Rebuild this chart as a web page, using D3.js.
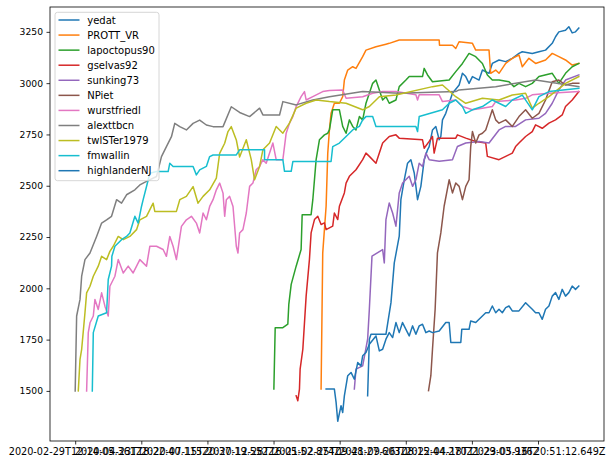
<!DOCTYPE html>
<html><head><meta charset="utf-8">
<script src="https://cdn.jsdelivr.net/npm/d3@7/dist/d3.min.js"></script>
<style>
html,body{margin:0;padding:0;background:#fff;}
svg{display:block;font-family:"DejaVu Sans",sans-serif;}
</style></head>
<body><svg id="chart" width="615" height="466"></svg>
<script>
// ---- data: [game index, rating] ----
const yedat = [[4423,1476],[4449,1752],[4474,1776],[4700,1776],[4776,1930],[4826,2124],[4901,2254],[4926,2432],[4977,2529],[5027,2610],[5077,2627],[5128,2562],[5178,2432],[5228,2497],[5279,2627],[5329,2675],[5354,2691],[5404,2772],[5454,2789],[5505,2724],[5530,2740],[5555,2821],[5605,2853],[5706,2951],[5807,2991],[5857,3048],[5907,3032],[5957,2999],[6008,3032],[6108,3015],[6159,3064],[6259,3048],[6309,3096],[6410,3113],[6511,3105],[6611,3121],[6712,3145],[6762,3153],[6913,3145],[7014,3153],[7114,3161],[7215,3194],[7265,3226],[7315,3250],[7416,3258],[7466,3275],[7517,3245],[7567,3250],[7617,3268]];
const PROTT_VR = [[3719,1509],[3744,2173],[3795,2400],[3820,2659],[3845,2772],[3870,2853],[3920,2902],[3996,2902],[4046,2934],[4071,3015],[4122,3064],[4197,3080],[4247,3072],[4348,3129],[4398,3161],[4549,3177],[4700,3190],[4750,3194],[4901,3210],[5505,3210],[5510,3185],[5706,3185],[5756,3169],[5806,3202],[6008,3194],[6058,3161],[6259,3161],[6284,3048],[6360,3064],[6410,3048],[6511,3096],[6611,3121],[6712,3137],[6762,3080],[6862,3121],[6963,3096],[7114,3113],[7215,3145],[7315,3129],[7416,3113],[7517,3088],[7617,3096]];
const lapoctopus90 = [[3005,1509],[3025,1808],[3141,1808],[3216,1825],[3231,1922],[3267,2019],[3342,2108],[3417,2189],[3433,2359],[3568,2359],[3594,2432],[3644,2627],[3694,2724],[3770,2748],[3820,2756],[3845,2772],[3895,2870],[3996,2870],[4046,2789],[4097,2756],[4147,2821],[4197,2789],[4247,2772],[4298,2837],[4348,2821],[4398,2902],[4449,2951],[4499,2999],[4549,3015],[4600,2967],[4650,2918],[4700,2934],[4750,2902],[4851,2918],[4901,2983],[5002,3015],[5052,3032],[5253,3032],[5278,3072],[5329,3040],[5404,3007],[5656,3015],[5756,3056],[5857,3096],[5957,3145],[6058,3129],[6159,3096],[6234,3040],[6309,3015],[6410,3015],[6561,3007],[6636,2983],[6712,2999],[6812,2983],[6913,2999],[7014,3032],[7215,3048],[7315,2999],[7416,3048],[7517,3080],[7617,3096]];
const gselvas92 = [[3342,1476],[3367,1452],[3392,1509],[3402,1606],[3443,1703],[3493,1962],[3543,2141],[3568,2270],[3619,2335],[3669,2351],[3719,2311],[3770,2319],[3795,2286],[3895,2303],[3920,2367],[3971,2335],[3996,2400],[4071,2465],[4097,2513],[4147,2546],[4247,2578],[4348,2627],[4398,2659],[4449,2643],[4549,2610],[4650,2708],[4750,2740],[4851,2748],[4901,2732],[5253,2724],[5278,2683],[5354,2716],[5404,2740],[5429,2659],[5479,2732],[5756,2732],[5781,2748],[5907,2732],[6058,2716],[6209,2708],[6234,2643],[6410,2627],[6511,2643],[6611,2659],[6661,2691],[6712,2708],[6812,2740],[6913,2764],[6963,2797],[7064,2780],[7165,2805],[7265,2821],[7366,2845],[7416,2886],[7517,2918],[7617,2959]];
const sunking73 = [[4222,1509],[4247,1606],[4348,1622],[4423,1752],[4449,1898],[4489,2157],[4650,2189],[4675,2124],[4700,2335],[4750,2416],[4801,2367],[4851,2303],[4901,2465],[4952,2513],[5052,2546],[5103,2497],[5153,2529],[5203,2610],[5253,2594],[5304,2659],[5354,2627],[5505,2619],[5706,2627],[5781,2691],[5907,2708],[6108,2716],[6259,2708],[6410,2772],[6511,2789],[6661,2789],[6812,2821],[7014,2829],[7114,2853],[7215,2902],[7315,2967],[7416,3015],[7617,3040]];
const NPiet = [[5344,1501],[5379,1574],[5404,1703],[5444,1898],[5479,2173],[5530,2270],[5580,2400],[5656,2529],[5706,2465],[5756,2513],[5807,2497],[5857,2432],[5907,2497],[5957,2529],[5982,2691],[6008,2764],[6058,2708],[6108,2748],[6159,2756],[6209,2772],[6259,2821],[6309,2870],[6360,2821],[6410,2805],[6511,2821],[6611,2789],[6712,2837],[6812,2870],[6913,2829],[7014,2853],[7114,2918],[7215,3007],[7315,3015],[7416,2991],[7517,2999],[7617,2999]];
const wurstfriedl = [[173,1500],[198,1784],[224,1832],[274,1865],[299,1946],[349,1897],[400,1978],[450,1913],[500,1865],[525,2010],[601,2059],[651,2140],[727,2075],[802,2108],[877,2075],[978,2140],[1079,2108],[1129,2205],[1230,2205],[1330,2189],[1380,2156],[1431,2253],[1481,2205],[1531,2140],[1607,2302],[1682,2334],[1758,2351],[1833,2318],[1883,2270],[1934,2367],[1984,2334],[2034,2399],[2085,2432],[2135,2480],[2185,2513],[2236,2464],[2261,2351],[2286,2432],[2336,2448],[2387,2399],[2437,2205],[2462,2172],[2487,2270],[2537,2286],[2588,2367],[2638,2497],[2688,2513],[2738,2578],[2789,2594],[2839,2627],[2889,2610],[2940,2659],[2990,2708],[3040,2627],[3141,2627],[3191,2756],[3241,2805],[3292,2837],[3342,2886],[3417,2934],[3468,2959],[3493,2918],[3594,2934],[3744,2959],[3845,2964],[4046,2967],[4097,2926],[4348,2934],[4499,2951],[4650,2959],[4851,2959],[5153,2943],[5178,2918],[5203,2943],[5505,2943],[5555,2910],[5756,2918],[5857,2886],[6008,2870],[6159,2878],[6309,2886],[6360,2910],[6661,2918],[6812,2926],[6913,2943],[7165,2951],[7617,2959]];
const alexttbcn = [[0,1500],[22,1865],[73,1946],[98,2059],[148,2140],[224,2172],[324,2253],[400,2318],[475,2334],[550,2351],[626,2432],[701,2415],[777,2456],[903,2480],[978,2504],[1079,2521],[1230,2545],[1305,2642],[1380,2691],[1456,2739],[1506,2804],[1582,2788],[1682,2772],[1783,2804],[1883,2820],[1984,2796],[2085,2788],[2236,2788],[2361,2885],[2487,2857],[2638,2837],[2789,2878],[2839,2845],[3091,2845],[3141,2910],[3342,2894],[3594,2918],[3845,2934],[4348,2959],[4901,2951],[5756,2959],[5806,2967],[6360,2983],[6963,3015],[7617,2983]];
const twlSTer1979 = [[47,1500],[73,1654],[98,1703],[148,1881],[173,1978],[224,2010],[274,2059],[349,2108],[400,2156],[475,2140],[525,2180],[576,2205],[651,2253],[727,2237],[827,2253],[928,2286],[978,2334],[1079,2351],[1179,2415],[1204,2375],[1531,2375],[1582,2432],[1682,2448],[1783,2496],[1858,2415],[1934,2448],[2034,2480],[2135,2537],[2185,2658],[2261,2707],[2311,2764],[2361,2788],[2437,2723],[2487,2640],[2588,2724],[2663,2627],[2713,2529],[2789,2594],[2839,2675],[2940,2708],[3040,2789],[3141,2756],[3241,2805],[3342,2878],[3493,2902],[3644,2918],[3845,2910],[4097,2902],[4348,2870],[4449,2886],[4600,2934],[4851,2942],[5404,2983],[5555,2991],[5756,2934],[5907,2902],[6159,2926],[6410,2918],[6611,2942],[6812,2951],[6913,2878],[7014,2902],[7165,2934],[7416,2999],[7617,3032]];
const fmwallin = [[259,1500],[274,1784],[349,1865],[475,1881],[500,2043],[550,2108],[555,2156],[601,2205],[701,2237],[777,2253],[827,2270],[903,2351],[953,2318],[1003,2399],[1028,2432],[1079,2496],[1129,2561],[1230,2569],[1406,2569],[1431,2610],[1481,2594],[1783,2594],[1833,2553],[1883,2577],[1984,2594],[2034,2642],[2085,2650],[2437,2650],[2487,2675],[2864,2675],[2864,2627],[3141,2627],[3166,2570],[3267,2570],[3292,2618],[3870,2618],[3895,2691],[3996,2708],[4097,2740],[4197,2772],[4298,2789],[4348,2821],[4398,2837],[4499,2837],[4549,2789],[5153,2789],[5178,2764],[5203,2837],[5555,2870],[5656,2902],[5756,2918],[5857,2886],[5907,2853],[6008,2870],[6159,2886],[6309,2918],[6410,2902],[6511,2886],[6611,2918],[6762,2942],[6913,2870],[7014,2934],[7165,2959],[7617,2975]];
const highlanderNJ = [[3795,1509],[3920,1509],[3946,1444],[3971,1352],[4021,1428],[4046,1395],[4071,1476],[4122,1574],[4172,1590],[4222,1557],[4273,1638],[4323,1622],[4348,1671],[4398,1687],[4449,1727],[4549,1768],[4600,1695],[4650,1703],[4700,1752],[4750,1784],[4801,1760],[4851,1833],[4901,1784],[4951,1833],[5002,1800],[5052,1768],[5102,1817],[5153,1776],[5203,1817],[5253,1825],[5304,1784],[5354,1792],[5404,1784],[5505,1792],[5605,1833],[5656,1833],[5681,1736],[5832,1736],[5847,1800],[5957,1800],[5982,1841],[6058,1833],[6108,1849],[6159,1865],[6209,1881],[6259,1881],[6309,1914],[6360,1881],[6410,1898],[6460,1881],[6511,1906],[6561,1914],[6611,1890],[6712,1890],[6812,1930],[6862,1914],[6913,1898],[6963,1881],[7014,1881],[7064,1849],[7114,1898],[7165,1914],[7215,1962],[7265,1979],[7315,1946],[7366,1995],[7416,1962],[7466,1979],[7517,2011],[7567,1995],[7617,2011]];

const seriesNames = ["yedat","PROTT_VR","lapoctopus90","gselvas92","sunking73","NPiet","wurstfriedl","alexttbcn","twlSTer1979","fmwallin","highlanderNJ"];
const seriesData = [yedat,PROTT_VR,lapoctopus90,gselvas92,sunking73,NPiet,wurstfriedl,alexttbcn,twlSTer1979,fmwallin,highlanderNJ];
const colors = ["#1f77b4","#ff7f0e","#2ca02c","#d62728","#9467bd","#8c564b","#e377c2","#7f7f7f","#bcbd22","#17becf","#1f77b4"];
const xTickValues = [0,1000,2000,3000,4000,5000,6000,7000];
const xTickLabels = ["2020-02-29T12:14:05.361Z","2020-04-23T18:22:40.115Z","2020-07-15T20:37:19.552Z","2020-12-28T16:05:52.874Z","2021-02-25T09:48:27.603Z","2021-09-26T08:15:44.270Z","2022-04-18T11:29:03.936Z","2023-05-16T20:51:12.649Z"];
const yTickValues = [1500,1750,2000,2250,2500,2750,3000,3250];

// ---- layout ----
const L = 50, R = 604, T = 7, B = 441;
const svg = d3.select("#chart");

const allPts = seriesData.flat();
const xe = d3.extent(allPts, d => d[0]);
const ye = d3.extent(allPts, d => d[1]);
const xp = (xe[1]-xe[0])*0.05, yp = (ye[1]-ye[0])*0.05;
const x = d3.scaleLinear().domain([xe[0]-xp, xe[1]+xp]).range([L, R]);
const y = d3.scaleLinear().domain([ye[0]-yp, ye[1]+yp]).range([B, T]);

const line = d3.line().x(d => x(d[0])).y(d => y(d[1]));
const g = svg.append("g");
g.append("clipPath").attr("id","clip").append("rect").attr("x",L).attr("y",T).attr("width",R-L).attr("height",B-T);
const lines = g.append("g").attr("clip-path","url(#clip)");
seriesData.forEach((s,i) => {
  lines.append("path").attr("d", line(s)).attr("fill","none")
    .attr("stroke", colors[i]).attr("stroke-width",1.5)
    .attr("stroke-linejoin","round").attr("stroke-linecap","square");
});

// axes
const xAxis = d3.axisBottom(x).tickValues(xTickValues).tickFormat((d,i)=>xTickLabels[i]).tickSize(3.5).tickPadding(3.5);
const yAxis = d3.axisLeft(y).tickValues(yTickValues).tickFormat(d3.format("d")).tickSize(3.5).tickPadding(3.5);
const gx = svg.append("g").attr("transform",`translate(0,${B})`).call(xAxis);
const gy = svg.append("g").attr("transform",`translate(${L},0)`).call(yAxis);
[gx,gy].forEach(a => {
  a.select(".domain").remove();
  a.selectAll(".tick line").attr("stroke","#000").attr("stroke-width",0.8);
  a.selectAll(".tick text").attr("fill","#000").attr("font-family","DejaVu Sans");
});
gx.selectAll(".tick text").attr("font-size",9.7);
gy.selectAll(".tick text").attr("font-size",9.2);
// frame
svg.append("rect").attr("x",L).attr("y",T).attr("width",R-L).attr("height",B-T)
  .attr("fill","none").attr("stroke","#000").attr("stroke-width",0.8);

// legend
const lg = svg.append("g");
lg.append("rect").attr("x",55).attr("y",12.3).attr("width",104).attr("height",168.4)
  .attr("rx",2.5).attr("fill","#fff").attr("fill-opacity",0.8).attr("stroke","#cccccc").attr("stroke-width",0.8);
seriesNames.forEach((n,i) => {
  const yy = 20 + i*15.07;
  lg.append("line").attr("x1",58.5).attr("x2",79.5).attr("y1",yy).attr("y2",yy)
    .attr("stroke",colors[i]).attr("stroke-width",1.5);
  lg.append("text").attr("x",87.3).attr("y",yy).attr("dy","0.36em")
    .attr("font-size",10).attr("font-family","DejaVu Sans").attr("fill","#000").text(n);
});
</script></body></html>
